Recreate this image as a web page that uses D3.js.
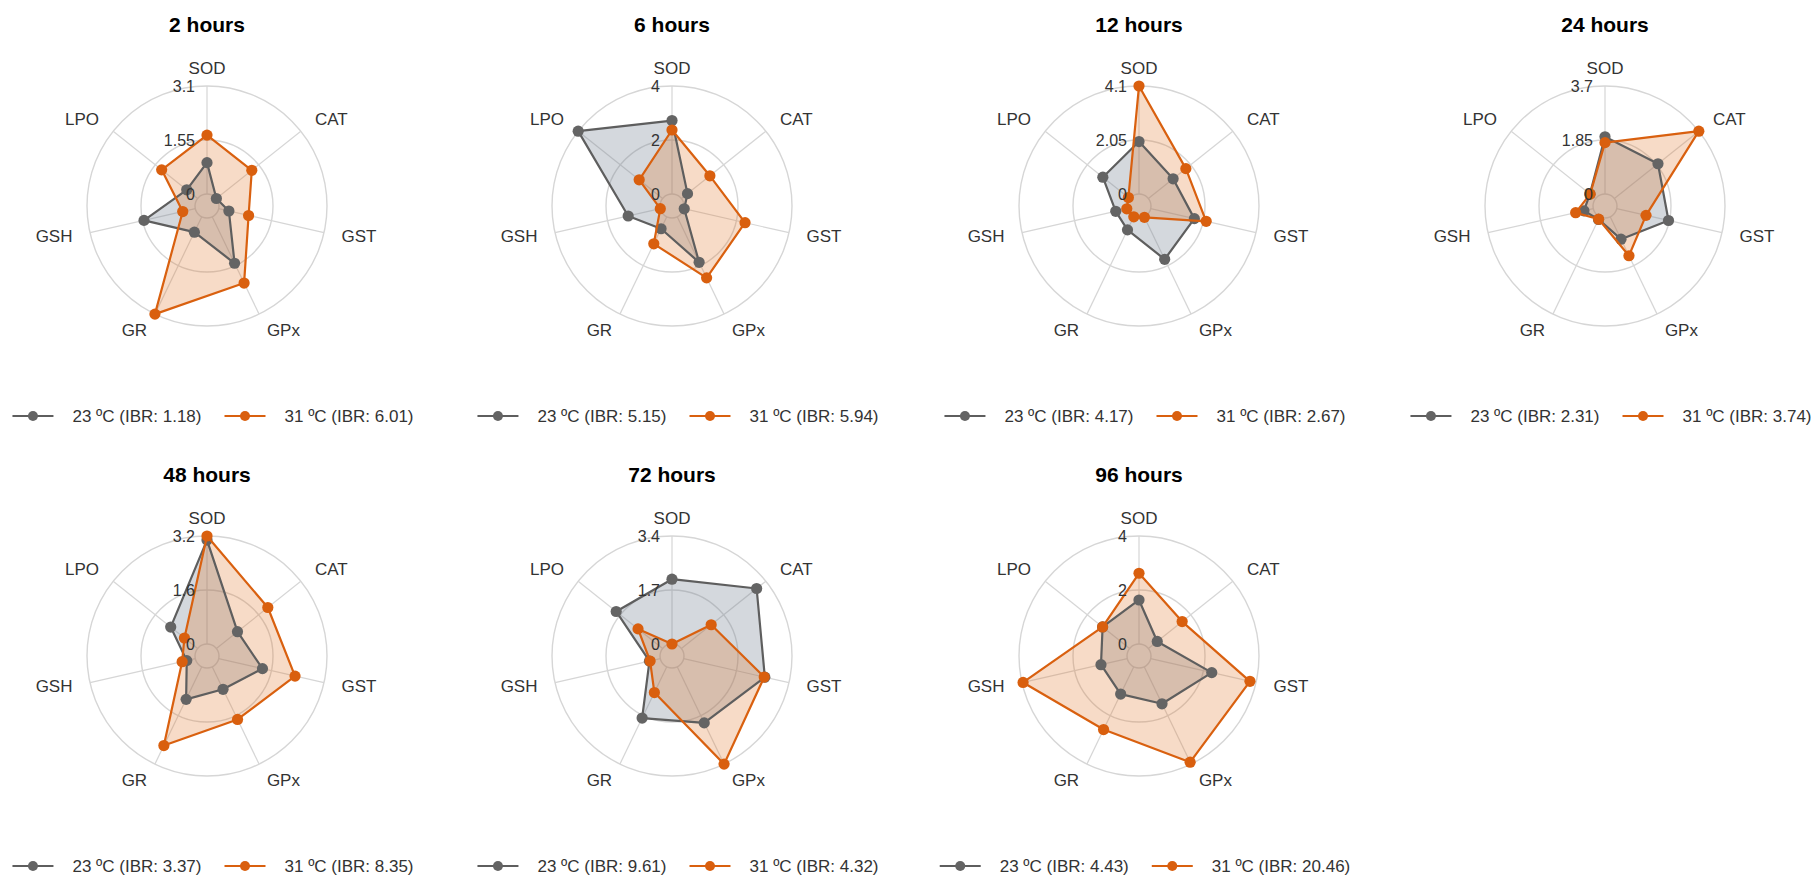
<!DOCTYPE html>
<html>
<head>
<meta charset="utf-8">
<script src="https://cdn.jsdelivr.net/npm/d3@7"></script>
<style>
  html, body { margin: 0; padding: 0; background: #ffffff; }
  svg { display: block; font-family: "Liberation Sans", Arial, sans-serif; }
</style>
</head>
<body>
<svg id="chart" width="1817" height="878"></svg>
<script>
// Biomarker axes, clockwise from the top
const axes = ["SOD", "CAT", "GST", "GPx", "GR", "GSH", "LPO"];

// Exposure times (one radar per time)
const panelTitles = ["2 hours", "6 hours", "12 hours", "24 hours", "48 hours", "72 hours", "96 hours"];

// Grid maximum per panel and the tick labels shown on the SOD axis
const gridMax = [3.1, 4, 4.1, 3.7, 3.2, 3.4, 4];
const gridMaxLabels = ["3.1", "4", "4.1", "3.7", "3.2", "3.4", "4"];
const gridMidLabels = ["1.55", "2", "2.05", "1.85", "1.6", "1.7", "2"];
const gridMinLabels = ["0", "0", "0", "0", "0", "0", "0"];

// Series names and integrated biomarker response per panel
const seriesNames = ["23 ºC", "31 ºC"];
const ibr23 = ["1.18", "5.15", "4.17", "2.31", "3.37", "9.61", "4.43"];
const ibr31 = ["6.01", "5.94", "2.67", "3.74", "8.35", "4.32", "20.46"];

// Standardised biomarker scores, order: SOD, CAT, GST, GPx, GR, GSH, LPO
const values23 = [
  [0.90, 0.00, 0.30, 1.48, 0.49, 1.51, 0.40],
  [2.72, 0.29, 0.02, 1.87, 0.49, 1.22, 4.00],
  [1.99, 1.20, 1.70, 1.79, 0.55, 0.45, 1.30],
  [1.96, 1.91, 1.82, 0.85, 0.10, 0.33, 0.25],
  [3.08, 0.80, 1.33, 0.74, 1.07, 0.26, 1.02],
  [2.04, 3.03, 2.62, 1.96, 1.79, 0.35, 1.87],
  [1.63, 0.42, 2.32, 1.52, 1.12, 1.00, 1.28]
];
const values31 = [
  [1.69, 1.30, 0.88, 2.11, 3.10, 0.37, 1.32],
  [2.37, 1.35, 2.33, 2.51, 1.11, 0.00, 1.11],
  [4.10, 1.82, 2.16, 0.02, 0.00, 0.02, 0.06],
  [1.76, 3.70, 1.03, 1.48, 0.09, 0.62, 0.24],
  [3.20, 1.95, 2.32, 1.73, 2.59, 0.40, 0.50],
  [0.00, 1.20, 2.60, 3.40, 0.90, 0.33, 0.99],
  [2.62, 1.60, 3.77, 3.92, 2.58, 3.96, 1.28]
];

// ---- layout & style ----
const colX = [207, 672, 1139, 1605];
const rowY = [206, 656];
const titleDy = -174;
const legendDy = 210;
const R = 120;

const lineColors = ["#5e5e5e", "#d9600f"];
const pointColors = ["#646464", "#d95f0e"];
const fillColors = ["#6f7f8f", "#e07020"];
const fillOpacity = [0.3, 0.25];
const gridColor = "#d6d6d6";
const textColor = "#333333";

const svg = d3.select("#chart");

const angle = d3.scaleLinear()
  .domain([0, axes.length])
  .range([0, 2 * Math.PI]);

panelTitles.forEach((title, p) => {
  const cx = colX[p % 4];
  const cy = rowY[Math.floor(p / 4)];
  const max = gridMax[p];
  const centre = -max / 9;

  const r = d3.scaleLinear().domain([centre, max]).range([0, R]);

  const g = svg.append("g").attr("transform", `translate(${cx},${cy})`);

  // grid circles at 0, mid and max
  const gridVals = [0, max / 2, max];
  g.selectAll("circle.grid")
    .data(gridVals)
    .join("circle")
    .attr("class", "grid")
    .attr("r", d => r(d))
    .attr("fill", "none")
    .attr("stroke", gridColor)
    .attr("stroke-width", 1.4);

  // spokes from the zero ring to the outer ring
  g.selectAll("line.spoke")
    .data(axes)
    .join("line")
    .attr("class", "spoke")
    .each(function (d, i) {
      const a = angle(i);
      const p0 = d3.pointRadial(a, r(0));
      const p1 = d3.pointRadial(a, r(max));
      d3.select(this)
        .attr("x1", p0[0]).attr("y1", p0[1])
        .attr("x2", p1[0]).attr("y2", p1[1]);
    })
    .attr("stroke", gridColor)
    .attr("stroke-width", 1.2);

  // series
  const seriesVals = [values23[p], values31[p]];
  const radial = d3.lineRadial()
    .angle((d, i) => angle(i))
    .radius(d => r(d))
    .curve(d3.curveLinearClosed);

  seriesVals.forEach((vals, s) => {
    g.append("path")
      .attr("d", radial(vals))
      .attr("fill", fillColors[s])
      .attr("fill-opacity", fillOpacity[s])
      .attr("stroke", "none");
  });
  seriesVals.forEach((vals, s) => {
    g.append("path")
      .attr("d", radial(vals))
      .attr("fill", "none")
      .attr("stroke", lineColors[s])
      .attr("stroke-width", 2.2)
      .attr("stroke-linejoin", "round");
    g.selectAll(`circle.pt${s}`)
      .data(vals)
      .join("circle")
      .attr("class", `pt${s}`)
      .attr("cx", (d, i) => d3.pointRadial(angle(i), r(d))[0])
      .attr("cy", (d, i) => d3.pointRadial(angle(i), r(d))[1])
      .attr("r", 5.6)
      .attr("fill", pointColors[s]);
  });

  // grid value labels along the SOD axis
  const gridLabels = [gridMinLabels[p], gridMidLabels[p], gridMaxLabels[p]];
  g.selectAll("text.gl")
    .data(gridVals)
    .join("text")
    .attr("class", "gl")
    .attr("x", -R * 0.1)
    .attr("y", d => -r(d))
    .attr("text-anchor", "end")
    .attr("dominant-baseline", "central")
    .attr("font-size", 16)
    .attr("fill", textColor)
    .text((d, i) => gridLabels[i]);

  // axis labels
  g.selectAll("text.al")
    .data(axes)
    .join("text")
    .attr("class", "al")
    .each(function (d, i) {
      const pt = d3.pointRadial(angle(i), R * 1.15);
      const anchor = Math.abs(pt[0]) < 1 ? "middle" : (pt[0] > 0 ? "start" : "end");
      d3.select(this)
        .attr("x", pt[0])
        .attr("y", pt[1])
        .attr("text-anchor", anchor);
    })
    .attr("dominant-baseline", "central")
    .attr("font-size", 17)
    .attr("fill", textColor)
    .text(d => d);

  // panel title
  g.append("text")
    .attr("x", 0)
    .attr("y", titleDy)
    .attr("text-anchor", "middle")
    .attr("font-size", 21)
    .attr("font-weight", "bold")
    .attr("fill", "#000")
    .text(title);

  // legend
  const lg = g.append("g").attr("transform", `translate(0,${legendDy})`);
  const labels = [`${seriesNames[0]} (IBR: ${ibr23[p]})`, `${seriesNames[1]} (IBR: ${ibr31[p]})`];
  const keyLen = 41, keyGap = 19, itemGap = 23;
  let x = 0;
  labels.forEach((lab, s) => {
    const it = lg.append("g");
    it.append("line")
      .attr("x1", 0).attr("x2", keyLen)
      .attr("y1", 0).attr("y2", 0)
      .attr("stroke", lineColors[s])
      .attr("stroke-width", 2.2);
    it.append("circle")
      .attr("cx", keyLen / 2).attr("cy", 0)
      .attr("r", 5)
      .attr("fill", pointColors[s]);
    const t = it.append("text")
      .attr("x", keyLen + keyGap)
      .attr("y", 0)
      .attr("dominant-baseline", "central")
      .attr("font-size", 17)
      .attr("fill", textColor)
      .text(lab);
    const w = keyLen + keyGap + t.node().getComputedTextLength();
    it.attr("transform", `translate(${x},0)`);
    x += w + itemGap;
  });
  const total = x - itemGap;
  lg.attr("transform", `translate(${6 - total / 2},${legendDy})`);
});
</script>
</body>
</html>
